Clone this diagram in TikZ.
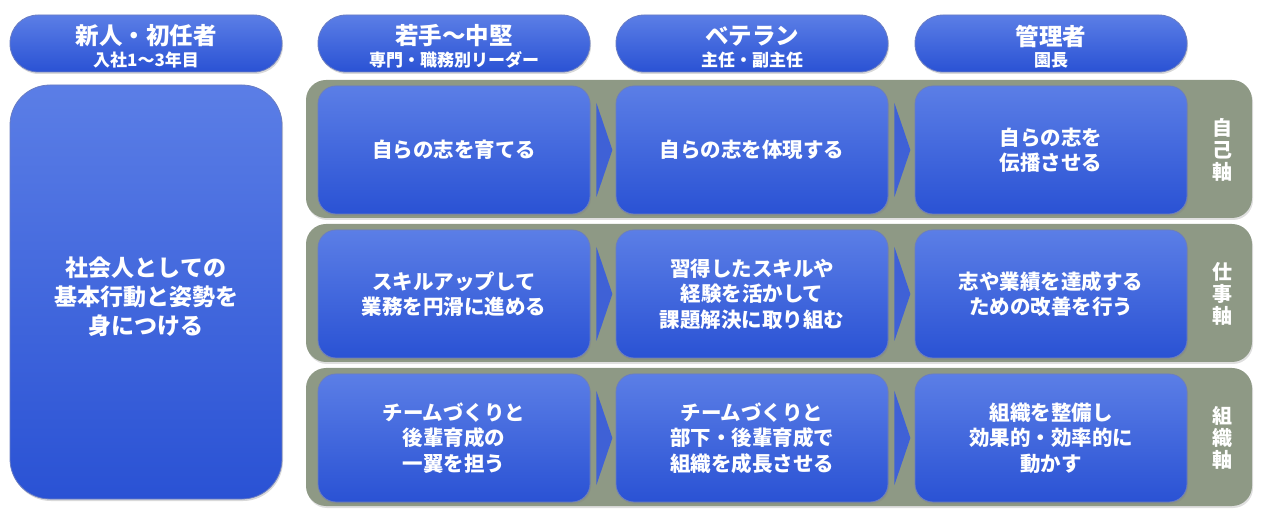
\documentclass[tikz,border=0pt]{standalone}
\usepackage{fontspec}
\setmainfont{Noto Sans CJK JP}
\usetikzlibrary{calc,shadows}
\definecolor{btop}{HTML}{5B7EE6}
\definecolor{bbot}{HTML}{2A52D4}
\definecolor{bedge}{HTML}{2A45A8}
\definecolor{bandc}{HTML}{8E9985}
\definecolor{chevc}{HTML}{3F61D6}
\tikzset{
  bluebox/.style={rounded corners=18pt, top color=btop, bottom color=bbot, draw=bedge!70, line width=0.8pt,
    text=white, font=\bfseries\fontsize{20.5}{25.5}\selectfont, align=center, inner sep=0pt,
    minimum width=272pt, minimum height=128pt,
    drop shadow={opacity=0.3, shadow xshift=1pt, shadow yshift=-2pt}},
  bigbox/.style={bluebox, rounded corners=40pt, minimum height=414pt},
  bigtext/.style={text=white, font=\bfseries\fontsize{23}{29}\selectfont, align=center, inner sep=0pt},
  pill/.style={rounded corners=28pt, top color=btop, bottom color=bbot, draw=bedge!70, line width=0.8pt,
    inner sep=0pt, minimum width=272pt, minimum height=57pt,
    drop shadow={opacity=0.3, shadow xshift=1pt, shadow yshift=-2pt}},
  headmain/.style={text=white, font=\bfseries\fontsize{23.5}{24}\selectfont, inner sep=0pt},
  headsub/.style={text=white, font=\bfseries\fontsize{17}{18}\selectfont, inner sep=0pt},
  bandbox/.style={rounded corners=20pt, fill=bandc, inner sep=0pt, minimum width=946pt, minimum height=138pt,
    drop shadow={opacity=0.25, shadow xshift=1pt, shadow yshift=-2pt}},
  chev/.style={fill=chevc},
  axislabel/.style={text=white, font=\bfseries\fontsize{20}{22}\selectfont, align=center, inner sep=0pt},
}
\begin{document}
\begin{tikzpicture}[x=1pt,y=-1pt]
\useasboundingbox (0,0) rectangle (1264,510);
% header pills
\foreach \n/\xx/\ma/\sb in {1/146/新人・初任者/入社1～3年目, 2/454/若手～中堅/専門・職務別リーダー, 3/752/ベテラン/主任・副主任, 4/1051/管理者/園長}{
  \node[pill] (h\n) at (\xx,43.5) {};
  \node[headmain] (h\n m) at ($(h\n)+(0,-7.5)$) {\ma};
  \node[headsub] (h\n s) at ($(h\n)+(0,16.5)$) {\sb};
}
% left box
\node[bigbox] (left) at (146,292) {};
\node[bigtext] (lefttext) at ($(left)+(0,5)$) {社会人としての\\基本行動と姿勢を\\身につける};
% bands
\node[bandbox] (b1) at (779,149) {};
\node[bandbox] (b2) at (779,293) {};
\node[bandbox] (b3) at (779,437) {};
% axis labels
\node[axislabel] (a1) at (1222,150) {自\\己\\軸};
\node[axislabel] (a2) at (1222,294) {仕\\事\\軸};
\node[axislabel] (a3) at (1222,438) {組\\織\\軸};
% row 1
\node[bluebox] (r1c1) at (454,150) {自らの志を育てる};
\node[bluebox] (r1c2) at (752,150) {自らの志を体現する};
\node[bluebox] (r1c3) at (1051,150) {自らの志を\\伝播させる};
% row 2
\node[bluebox] (r2c1) at (454,294) {スキルアップして\\業務を円滑に進める};
\node[bluebox] (r2c2) at (752,294) {習得したスキルや\\経験を活かして\\課題解決に取り組む};
\node[bluebox] (r2c3) at (1051,294) {志や業績を達成する\\ための改善を行う};
% row 3
\node[bluebox] (r3c1) at (454,438) {チームづくりと\\後輩育成の\\一翼を担う};
\node[bluebox] (r3c2) at (752,438) {チームづくりと\\部下・後輩育成で\\組織を成長させる};
\node[bluebox] (r3c3) at (1051,438) {組織を整備し\\効果的・効率的に\\動かす};
% chevrons
\foreach \r in {1,2,3}{
  \foreach \c in {1,2}{
    \fill[chev] ($(r\r c\c.east)+(6,-47)$) -- ($(r\r c\c.east)+(6,47)$) -- ($(r\r c\c.east)+(22,0)$) -- cycle;
  }
}
\end{tikzpicture}
\end{document}
